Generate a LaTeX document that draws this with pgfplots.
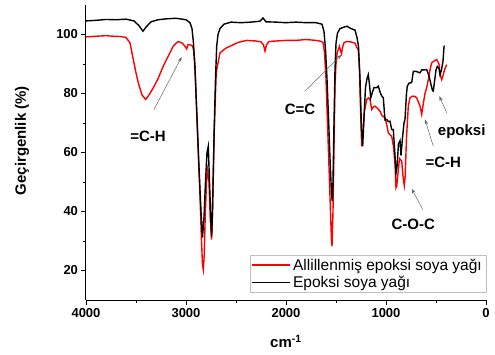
\documentclass[border=0pt]{standalone}
\usepackage{fontspec}
\setmainfont{Liberation Sans}
\usepackage{pgfplots}
\pgfplotsset{compat=1.18}
\usetikzlibrary{arrows.meta}
\begin{document}
\begin{tikzpicture}
\begin{axis}[name=ax,
  width=400pt, height=295pt, scale only axis,
  x dir=reverse, xmin=0, xmax=4000, ymin=10, ymax=110,
  xtick={0,1000,2000,3000,4000}, ytick={20,40,60,80,100},
  minor x tick num=1, minor y tick num=1,
  axis x line*=bottom, axis y line*=left,
  axis line style={-, line width=1pt},
  every tick/.style={black, line width=0.8pt},
  tick align=outside, major tick length=4.5pt, minor tick length=3pt,
  /pgf/number format/assume math mode=true,
  /pgf/number format/1000 sep={},
  ticklabel style={font=\bfseries\fontsize{13}{15}\selectfont},
  xlabel={\bfseries cm\textsuperscript{-1}},
  ylabel={\bfseries Geçirgenlik (\%)},
  every axis x label/.style={at={(axis description cs:0.5,-0.141)}, anchor=center, font=\fontsize{15}{17}\selectfont},
  every axis y label/.style={at={(axis description cs:-0.16,0.54)}, anchor=center, rotate=90, font=\fontsize{15}{17}\selectfont},
  legend style={at={(rel axis cs:1,0.025)}, anchor=south east, draw=gray!50, font=\fontsize{15.5}{17}\selectfont, inner xsep=2pt, inner ysep=2.5pt, row sep=2.5pt, cells={anchor=west}, nodes={inner ysep=1pt}},
  legend image code/.code={\draw[#1] (0pt,0pt) -- (38pt,0pt);},
]
\addplot[red, line width=1.4pt] coordinates {
(4000,99.2) (3900,99.4) (3800,99.6) (3720,99.4) (3650,99.3) (3600,99.0) (3560,97.2) (3527,91.5) (3500,87) (3477,83.6) (3440,79.5) (3403,78.0) (3370,79.5) (3327,81.9) (3280,85) (3227,89.3) (3180,92.5) (3127,96.1) (3080,97.6) (3040,97.2) (3010,96) (2993,95.1) (2980,96.6) (2960,96.5) (2940,96.3) (2925,95) (2910,90) (2893,73.5) (2875,58) (2860,45.2) (2845,30) (2835,22) (2827,20.3) (2818,25) (2808,38) (2795,50) (2785,54) (2770,50) (2758,38) (2745,30.5) (2735,40) (2717,67.8) (2700,85) (2693,88.1) (2660,93.8) (2600,95.4) (2560,96) (2480,97.3) (2393,98) (2300,97.8) (2250,97.5) (2225,96.5) (2210,94.4) (2195,96.5) (2170,97.6) (2100,97.8) (2000,98.0) (1900,98.0) (1800,98.3) (1700,98.0) (1650,97.7) (1630,97.3) (1615,94) (1600,85) (1585,70) (1570,55) (1555,40) (1545,30) (1540,28.2) (1530,40) (1520,62) (1510,82.5) (1500,90) (1487,94) (1465,96) (1455,94.5) (1445,93.5) (1432,96) (1420,97.2) (1400,97.6) (1350,97.5) (1310,97) (1290,95.5) (1277,94.9) (1265,88) (1255,75) (1243,62.1) (1230,67) (1215,74) (1193,78) (1175,78.5) (1160,78) (1143,74.6) (1125,75.5) (1110,75.7) (1085,75) (1060,74) (1040,72.5) (1010,71.8) (990,69) (977,66.7) (960,66) (943,65.5) (925,62) (910,56) (900,48) (893,48.5) (880,53) (865,58) (855,57.6) (843,57) (830,52) (817,48.8) (808,52) (795,65) (777,75.7) (760,78.5) (743,79) (727,79.1) (710,79) (693,78.5) (675,77) (660,75.7) (643,72.9) (625,77) (610,80) (593,82) (577,84.7) (560,88) (543,90.4) (520,91) (493,91.5) (470,90) (455,86) (443,84.7) (430,86) (415,88) (393,89.8)
};
\addlegendentry{Allillenmiş epoksi soya yağı}
\addplot[black, line width=1.4pt] coordinates {
(4000,104.6) (3900,104.8) (3800,105.1) (3700,105.0) (3600,105.2) (3520,104.6) (3470,103.0) (3430,101.1) (3400,102.5) (3350,104.3) (3280,105.0) (3200,105.3) (3100,105.5) (3000,105.0) (2960,104.0) (2940,102.0) (2925,97) (2910,88) (2890,72) (2870,55) (2850,40) (2835,31.2) (2820,38) (2805,50) (2790,60) (2777,62.1) (2765,50) (2750,36) (2743,31.6) (2735,40) (2720,65) (2705,85) (2693,96) (2680,100) (2660,102) (2620,103.5) (2550,104.2) (2450,104.0) (2350,104.2) (2260,104.5) (2230,105.6) (2200,104.3) (2100,104.2) (2000,104.0) (1900,104.2) (1800,104.0) (1700,104.0) (1640,103.5) (1620,101) (1605,95) (1590,85) (1575,72) (1560,58) (1545,46) (1537,43.5) (1530,50) (1520,70) (1510,88) (1500,97) (1485,100.5) (1460,102) (1420,102.5) (1390,102.8) (1350,102.0) (1310,101.5) (1290,99) (1275,96) (1260,85) (1245,68) (1233,62.1) (1220,72) (1205,82) (1190,85) (1177,86.4) (1165,83) (1153,78.5) (1140,80) (1120,82) (1093,82) (1077,82.5) (1060,80.5) (1040,79) (1027,78.6) (1010,71) (993,71.2) (977,70.5) (960,70.6) (943,67.8) (927,67.8) (910,59) (900,53) (890,55) (875,63) (860,64) (850,59) (835,65) (820,70) (810,71.2) (795,80) (787,82.5) (770,83.5) (743,83.7) (727,87.5) (700,87.5) (660,87) (643,88) (620,88) (593,88.1) (570,86) (550,83) (535,81) (527,80.8) (515,84) (500,88) (487,89.2) (470,88.5) (460,86.4) (445,88) (430,91) (420,95.8) (415,96.2)
};
\addlegendentry{Epoksi soya yağı}
\begin{scope}[every node/.style={font=\bfseries\fontsize{15}{17}\selectfont}]
\node at (axis cs:3380,65.4) {=C-H};
\node at (axis cs:1860,74.6) {C=C};
\node at (axis cs:243,67.2) {epoksi};
\node at (axis cs:427,56.5) {=C-H};
\node at (axis cs:727,35.6) {C-O-C};
\end{scope}
\begin{scope}[gray!80!black, line width=0.5pt, -{Stealth[length=5pt,width=3.5pt]}]
\draw (axis cs:3320,74.6) -- (axis cs:3043,92.4);
\draw (axis cs:1810,80.8) -- (axis cs:1443,93.2);
\draw (axis cs:393,73.5) -- (axis cs:467,79.1);
\draw (axis cs:527,62.1) -- (axis cs:610,71.2);
\draw (axis cs:633,40.7) -- (axis cs:743,47.7);
\end{scope}
\end{axis}
\pgfresetboundingbox
\path[use as bounding box] ([shift={(-86pt,-54pt)}]ax.south west) rectangle ([shift={(9pt,5pt)}]ax.north east);
\end{tikzpicture}
\end{document}
